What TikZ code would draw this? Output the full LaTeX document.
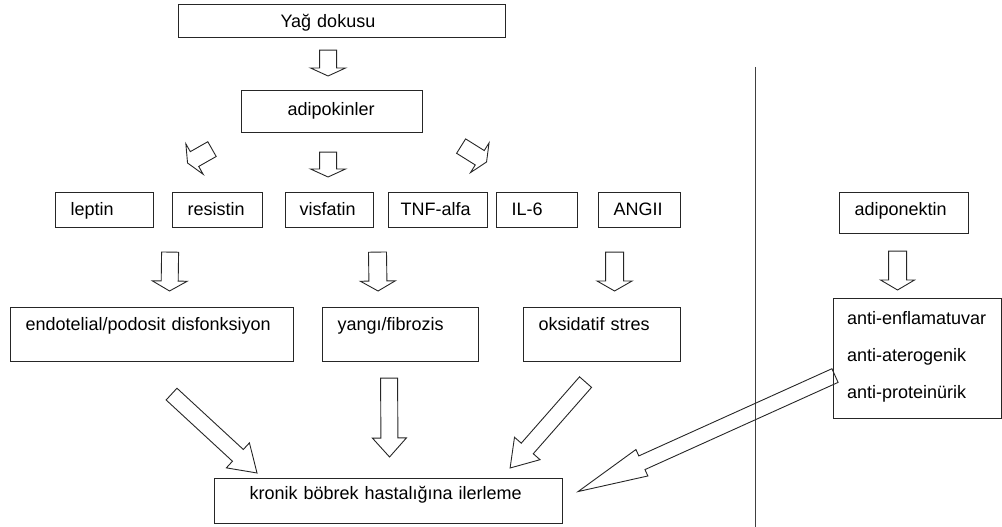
\documentclass[tikz,border=0pt]{standalone}
\usepackage{fontspec}
\setmainfont{Liberation Sans}
\usepackage{tikz}
\usetikzlibrary{calc}

% hollow block arrow: tail, tip, shaft half width, head half width, head length
\newcommand{\hollowarrow}[5]{%
  \coordinate (ha-t) at (#1);
  \coordinate (ha-p) at (#2);
  \coordinate (ha-b) at ($(ha-p)!#5!(ha-t)$);
  \draw[hollow] ($(ha-t)!#3!90:(ha-p)$) -- ($(ha-b)!#3!90:(ha-p)$)
    -- ($(ha-b)!#4!90:(ha-p)$) -- (ha-p) -- ($(ha-b)!#4!-90:(ha-p)$)
    -- ($(ha-b)!#3!-90:(ha-p)$) -- ($(ha-t)!#3!-90:(ha-p)$) -- cycle;}

\tikzset{
  box/.style={draw=black!85, line width=1.1pt, anchor=north west, inner ysep=0pt,
    align=left, font=\fontsize{18}{21}\selectfont},
  hollow/.style={draw=black!85, line width=0.9pt, line join=miter}
}

\begin{document}
\begin{tikzpicture}[x=1pt,y=-1pt]
\useasboundingbox (0,0) rectangle (1002,527);

\node[box, text width=123pt, inner xsep=102pt, text height=23pt, text depth=10pt] (yag) at (178,4) {Yağ dokusu};
\node[box, text width=89pt, inner xsep=46pt, text height=25pt, text depth=17pt] (adipo) at (241,90) {adipokinler};

\node[box, text width=68pt, inner xsep=15pt, text height=23pt, text depth=12pt] (leptin) at (55,192) {leptin};
\node[box, text width=60pt, inner xsep=15pt, text height=23pt, text depth=12pt] (resistin) at (172,192) {resistin};
\node[box, text width=60pt, inner xsep=14pt, text height=23pt, text depth=12pt] (visfatin) at (285,192) {visfatin};
\node[box, text width=75pt, inner xsep=12pt, text height=23pt, text depth=12pt] (tnf) at (388,192) {\mbox{TNF-alfa}};
\node[box, text width=51pt, inner xsep=15pt, text height=23pt, text depth=12pt] (il6) at (496,192) {\mbox{IL-6}};
\node[box, text width=52pt, inner xsep=15pt, text height=23pt, text depth=12pt] (angii) at (598,192) {ANGII};
\node[box, text width=99pt, inner xsep=15pt, text height=23pt, text depth=18pt] (adipon) at (839,192) {adiponektin};

\node[box, text width=253pt, inner xsep=15pt, text height=23pt, text depth=31pt] (endo) at (10,307) {endotelial/podosit disfonksiyon};
\node[box, text width=126pt, inner xsep=15pt, text height=23pt, text depth=31pt] (yangi) at (322,307) {yangı/fibrozis};
\node[box, text width=127pt, inner xsep=15pt, text height=23pt, text depth=31pt] (oks) at (523,307) {oksidatif stres};
\node[box, text width=141pt, inner xsep=13.5pt, text height=26pt, text depth=94pt,
  font=\fontsize{18}{37}\selectfont] (anti) at (833,298) {\mbox{anti-enflamatuvar}\\\mbox{anti-aterogenik}\\\mbox{anti-proteinürik}};

\node[box, text width=278pt, inner xsep=35pt, text height=21pt, text depth=24pt] (kbh) at (214,478) {kronik böbrek hastalığına ilerleme};

\draw[line width=0.9pt, black!75] (755,67) -- (755,527);

% small arrows
\hollowarrow{[xshift=-14pt,yshift=-12pt]yag.south}{[xshift=-4pt,yshift=14pt]adipo.north}{8.5pt}{17.5pt}{8pt}
\hollowarrow{[xshift=-4pt,yshift=-19pt]adipo.south}{[xshift=-1.5pt,yshift=15pt]visfatin.north}{8.5pt}{17.5pt}{8pt}
\hollowarrow{[xshift=-29pt,yshift=-16pt]adipo.south west}{[xshift=-30pt,yshift=29pt]resistin.north}{8.5pt}{17.5pt}{8pt}
\hollowarrow{[xshift=38pt,yshift=-13pt]adipo.south east}{[xshift=48.5pt,yshift=30pt]tnf.north}{8.5pt}{17.5pt}{8pt}

\hollowarrow{[xshift=16pt,yshift=-24pt]leptin.south east}{[xshift=17.5pt,yshift=16pt]endo.north}{8.5pt}{17.5pt}{10pt}
\hollowarrow{[xshift=-10.5pt,yshift=-24pt]tnf.south west}{[xshift=-22.5pt,yshift=16pt]yangi.north}{9pt}{17.5pt}{10pt}
\hollowarrow{[xshift=-25pt,yshift=-24pt]angii.south}{[xshift=12.5pt,yshift=16pt]oks.north}{9pt}{17.5pt}{10pt}
\hollowarrow{[xshift=-6.5pt,yshift=-17pt]adipon.south}{[xshift=-20pt,yshift=8pt]anti.north}{9pt}{17pt}{10pt}

% big arrows
\hollowarrow{[xshift=19.5pt,yshift=-32pt]endo.south}{[xshift=43pt,yshift=5pt]kbh.north west}{8pt}{17pt}{26pt}
\hollowarrow{[xshift=-11.5pt,yshift=-16pt]yangi.south}{[xshift=1pt,yshift=21pt]kbh.north}{8.5pt}{17pt}{19pt}
\hollowarrow{[xshift=-16.5pt,yshift=-20pt]oks.south}{[xshift=-53pt,yshift=10pt]kbh.north east}{8pt}{17pt}{26pt}
\hollowarrow{[xshift=2pt,yshift=-17pt]anti.west}{[xshift=15pt,yshift=9.5pt]kbh.east}{7.5pt}{14.5pt}{70pt}
\end{tikzpicture}
\end{document}
